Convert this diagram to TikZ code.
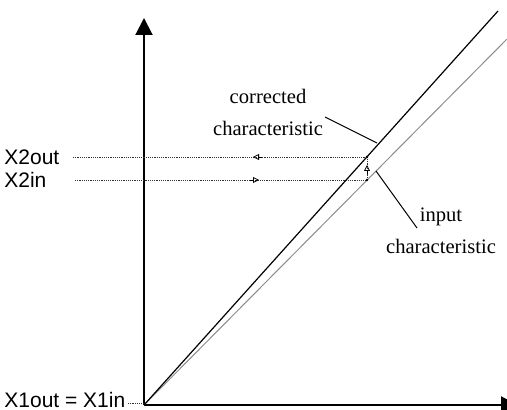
\documentclass[tikz,border=0pt]{standalone}
\usepackage{fontspec}
\setmainfont{Liberation Serif}
\setsansfont{Liberation Sans}
\usetikzlibrary{arrows.meta}
\begin{document}
\begin{tikzpicture}[x=0.5pt,y=-0.5pt,
  axis/.style={line width=1pt,-{Triangle[length=8.5pt,width=8.5pt]}},
  corr/.style={line width=0.6pt,black},
  inp/.style={line width=0.5pt,black!45},
  dots/.style={line width=0.45pt,dash pattern=on 0.55pt off 0.55pt,black!80},
  mid/.style={line width=0.4pt,-{Triangle[open,length=3pt,width=3pt]},black},
  lead/.style={line width=0.5pt,black},
  sanslbl/.style={font=\sffamily\fontsize{10.5}{12}\selectfont,inner sep=0pt,anchor=west},
  seriflbl/.style={font=\fontsize{10.3}{16}\selectfont,inner sep=0pt,align=center}]
\useasboundingbox (0,0) rectangle (507,410);
\clip (0,0) rectangle (507,410);
% axes
\coordinate (O) at (144,405);
\coordinate (ytop) at (144,18);
\coordinate (xend) at (518,405);
\draw[axis] (O) -- (ytop);
\draw[axis] (O) -- (xend);
% characteristics
\coordinate (cEnd) at (498,11);
\coordinate (iEnd) at (507,39);
\draw[inp] (O) -- (iEnd);
\draw[corr] (O) -- (cEnd);
% labels left
\node[sanslbl] (x2o) at (4,157) {X2out};
\node[sanslbl] (x2i) at (4,180) {X2in};
\node[sanslbl] (x1) at (4,400) {X1out = X1in};
\coordinate (x2oS) at (73,157);
\coordinate (x2iS) at (75,180);
\coordinate (x1S) at (128,403);
\coordinate (x1E) at (144,403);
\coordinate (pOut) at (367,157);
\coordinate (pIn) at (367,180);
\draw[dots] (x2oS) -- (pOut);
\draw[dots] (x2iS) -- (pIn);
\draw[dots] (pIn) -- (pOut);
\draw[dots] (x1S) -- (x1E);
\fill (pOut) circle (0.7pt);
\fill (pIn) circle (0.7pt);
% direction marks
\coordinate (a1s) at (262,157); \coordinate (a1e) at (253,157);
\coordinate (a2s) at (250,180); \coordinate (a2e) at (259,180);
\coordinate (a3s) at (367,174); \coordinate (a3e) at (367,165);
\draw[mid] (a1s) -- (a1e);
\draw[mid] (a2s) -- (a2e);
\draw[mid] (a3s) -- (a3e);
% text labels
\node[seriflbl] (corrTxt) at (268,112) {corrected\\characteristic};
\node[seriflbl] (inTxt) at (441,231) {input\\characteristic};
\coordinate (l1s) at (325,117); \coordinate (l1e) at (377,143);
\coordinate (l2s) at (376,171); \coordinate (l2e) at (417,228);
\draw[lead] (l1s) -- (l1e);
\draw[lead] (l2s) -- (l2e);
\end{tikzpicture}
\end{document}
